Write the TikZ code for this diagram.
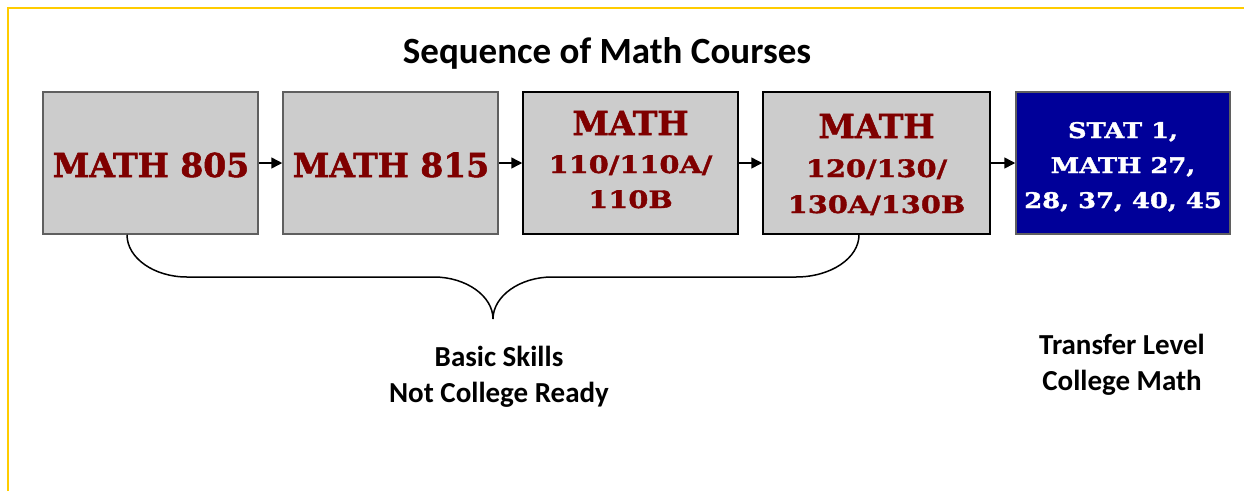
\documentclass[tikz,border=0pt]{standalone}
\usepackage{fontspec}
\setmainfont{Carlito}
\newfontfamily\coop[FakeBold=1.6]{DejaVu Serif}
\newfontfamily\coopw[FakeStretch=1.2,FakeBold=1.6]{DejaVu Serif}
\usetikzlibrary{arrows.meta}
\definecolor{frameyellow}{HTML}{FFCC00}
\definecolor{boxgray}{HTML}{CCCCCC}
\definecolor{edgegray}{HTML}{5F5F5F}
\definecolor{maroon}{HTML}{7F0000}
\definecolor{navy}{HTML}{000099}
\tikzset{
  coursebox/.style={draw=edgegray, fill=boxgray, line width=1.5pt, minimum width=215pt, minimum height=142pt, inner sep=0pt},
  darkedge/.style={draw=black},
  transferbox/.style={draw=edgegray, fill=navy, line width=1.5pt, minimum width=214pt, minimum height=142pt, inner sep=0pt},
  bigtxt/.style={anchor=base, inner sep=0pt, text=maroon, font=\coop\bfseries\fontsize{33}{36}\selectfont},
  numtxt/.style={anchor=base, inner sep=0pt, text=maroon, font=\coopw\bfseries\fontsize{24}{28}\selectfont},
  whitetxt/.style={anchor=base, inner sep=0pt, text=white, font=\coopw\bfseries\fontsize{21.5}{26}\selectfont},
  flow/.style={-{Triangle[length=11pt,width=11pt]}, line width=1.5pt, black},
  labeltxt/.style={align=center, font=\bfseries\fontsize{29}{36}\selectfont, inner sep=0pt},
}
\begin{document}
\begin{tikzpicture}[x=1pt,y=-1pt]
\useasboundingbox (0,0) rectangle (1244,491);
% frame
\draw[frameyellow, line width=2pt] (8,491) -- (8,8) -- (1244,8);
% title
\node[anchor=base, inner sep=0pt, font=\bfseries\fontsize{37}{44}\selectfont] (title) at (607,63) {Sequence of Math Courses};
% boxes
\node[coursebox] (b1) at (150.5,163) {};
\node[coursebox] (b2) at (390.5,163) {};
\node[coursebox, darkedge] (b3) at (630.5,163) {};
\node[coursebox, darkedge, minimum width=227pt] (b4) at (876.5,163) {};
\node[transferbox] (b5) at (1123,163) {};
% box texts
\node[bigtxt] (t1) at (151,177) {MATH 805};
\node[bigtxt] (t2) at (391,177) {MATH 815};
\node[bigtxt] (t3a) at (630.5,135) {MATH};
\node[numtxt] (t3b) at (630.5,173) {110/110A/};
\node[numtxt] (t3c) at (630.5,208) {110B};
\node[bigtxt] (t4a) at (876.5,138) {MATH};
\node[numtxt] (t4b) at (876.5,177) {120/130/};
\node[numtxt] (t4c) at (876.5,213) {130A/130B};
\node[whitetxt] (t5a) at (1123,138) {STAT 1,};
\node[whitetxt] (t5b) at (1123,173) {MATH 27,};
\node[whitetxt] (t5c) at (1123,208) {28, 37, 40, 45};
% arrows
\draw[flow] (b1.east) -- (b2.west);
\draw[flow] (b2.east) -- (b3.west);
\draw[flow] (b3.east) -- (b4.west);
\draw[flow] (b4.east) -- (b5.west);
% brace
\coordinate (bl) at (b1.south -| 127,0);
\coordinate (br) at (b4.south -| 859,0);
\coordinate (tip) at (493,319);
\draw[line width=1.5pt, black] (bl) .. controls (127,258) and (154,277) .. (187,277)
  -- (434,277) .. controls (466,277) and (493,296) .. (tip)
  .. controls (493,296) and (520,277) .. (552,277)
  -- (796,277) .. controls (831,277) and (859,258) .. (br);
% labels
\node[labeltxt] (basic) at (499,377) {Basic Skills\\Not College Ready};
\node[labeltxt] (transfer) at (1122,365) {Transfer Level\\College Math};
\end{tikzpicture}
\end{document}
